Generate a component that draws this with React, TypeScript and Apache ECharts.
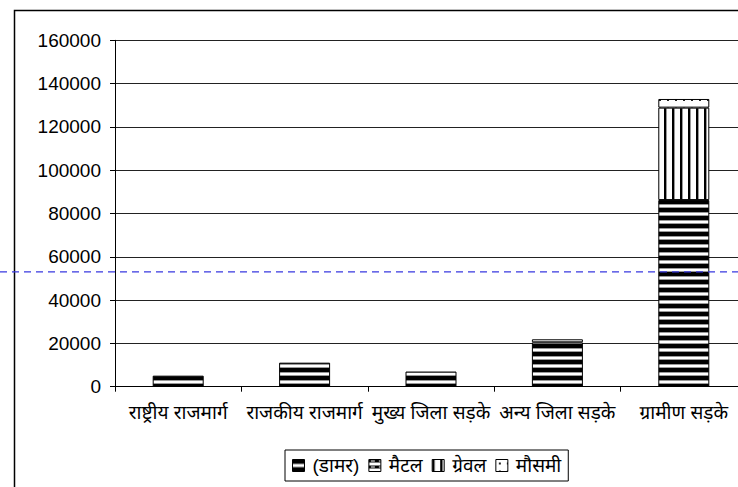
import React, { useEffect, useRef } from "react";
import * as echarts from "echarts";

const categories = ["राष्ट्रीय राजमार्ग", "राजकीय राजमार्ग", "मुख्य जिला सड़के", "अन्य जिला सड़के", "ग्रामीण सड़के"];
const seriesNames = ["(डामर)", "मैटल", "ग्रेवल", "मौसमी"];
const damarValues = [5100, 11100, 7000, 20500, 86200];
const metalValues = [0, 0, 0, 1400, 0];
const gravelValues = [0, 0, 0, 0, 42700];
const mausamiValues = [0, 0, 0, 0, 4000];
const refLineValue = 53000;
const yMin = 0;
const yMax = 160000;
const yInterval = 20000;

function makeCanvas(w: number, h: number, draw: (c: CanvasRenderingContext2D) => void) {
  const cv = document.createElement("canvas");
  cv.width = w;
  cv.height = h;
  const ctx = cv.getContext("2d")!;
  ctx.fillStyle = "#fff";
  ctx.fillRect(0, 0, w, h);
  draw(ctx);
  return cv;
}

export default function App() {
  const ref = useRef<HTMLDivElement>(null);
  useEffect(() => {
    document.body.style.margin = "0";
    const chart = echarts.init(ref.current!, null, { renderer: "svg" });
    const damarPat = makeCanvas(8, 8, (c) => {
      c.fillStyle = "#000";
      c.fillRect(0, 0, 8, 4);
      c.fillStyle = "#999";
      c.fillRect(0, 4, 8, 1);
      c.fillRect(0, 7, 8, 1);
    });
    const metalPat = makeCanvas(8, 6, (c) => {
      c.fillStyle = "#000";
      c.fillRect(0, 0, 8, 3);
      c.fillStyle = "#fff";
      c.fillRect(2, 1, 4, 1);
    });
    const gravelPat = makeCanvas(8, 8, (c) => {
      c.fillStyle = "#000";
      c.fillRect(0, 0, 2, 8);
      c.fillStyle = "#999";
      c.fillRect(2, 0, 1, 8);
    });
    const mausamiPat = makeCanvas(8, 8, (c) => {
      c.fillStyle = "#222";
      c.fillRect(3, 3, 2, 2);
    });
    const pats = [damarPat, metalPat, gravelPat, mausamiPat];
    const vals = [damarValues, metalValues, gravelValues, mausamiValues];
    const fontFam = "'Liberation Sans', Arial, 'Noto Sans Devanagari', 'Noto Sans', sans-serif";
    chart.setOption({
      animation: false,
      grid: { left: 115, top: 40.3, width: 632, height: 346.4, outerBoundsMode: "none", containLabel: false },
      legend: {
        left: 285,
        top: 450,
        data: seriesNames,
        icon: "rect",
        itemWidth: 12,
        itemHeight: 12,
        itemGap: 9,
        borderColor: "#000",
        borderWidth: 1,
        padding: [6, 7, 6, 7],
        textStyle: { fontSize: 19, color: "#000", fontFamily: fontFam, padding: [0, 0, 0, 3] },
        itemStyle: { borderColor: "#000", borderWidth: 1 },
      },
      xAxis: {
        type: "category",
        data: categories,
        axisLine: { lineStyle: { color: "#000", width: 1 } },
        axisTick: { show: true, length: 5, lineStyle: { color: "#000" } },
        axisLabel: { margin: 16, fontSize: 19, color: "#000", fontFamily: fontFam, interval: 0 },
      },
      yAxis: {
        type: "value",
        min: yMin,
        max: yMax,
        interval: yInterval,
        axisLine: { show: true, lineStyle: { color: "#000", width: 1 } },
        axisTick: { show: true, length: 5, lineStyle: { color: "#000" } },
        axisLabel: { margin: 14, fontSize: 19, color: "#000", fontFamily: fontFam, formatter: (v: number) => String(v) },
        splitLine: { lineStyle: { color: "#222", width: 1 } },
      },
      series: seriesNames.map((name, i) => ({
        name,
        type: "bar",
        stack: "total",
        barWidth: 51,
        data: vals[i].map((v) => (v === 0 ? null : v)),
        itemStyle: {
          color: { image: pats[i], repeat: "repeat" },
          borderColor: "#000",
          borderWidth: 1,
        },
      })),
    });
    const yPix = chart.convertToPixel({ yAxisIndex: 0 }, refLineValue) as number;
    chart.setOption({
      graphic: [
        {
          type: "rect",
          shape: { x: 14.5, y: 10.5, width: 900, height: 700 },
          style: { fill: "none", stroke: "#000", lineWidth: 1.5 },
          silent: true,
        },
        {
          type: "line",
          shape: { x1: 0, y1: yPix, x2: 738, y2: yPix },
          style: { stroke: "#3838e0", lineWidth: 1.2, lineDash: [7, 5] },
          silent: true,
          z: 100,
        },
      ],
    });
    return () => chart.dispose();
  }, []);
  return <div ref={ref} style={{ width: 738, height: 487 }} />;
}
